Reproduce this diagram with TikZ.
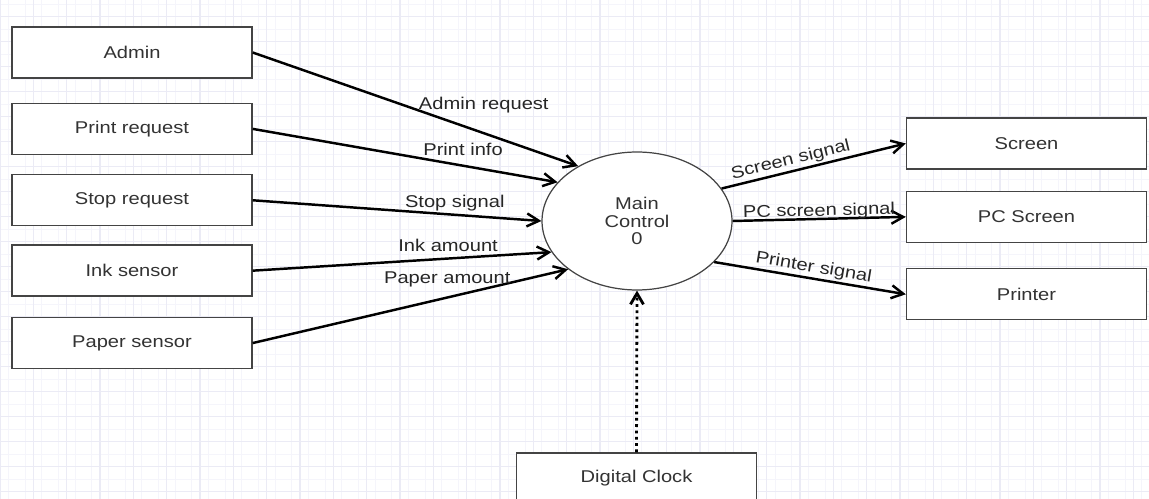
\documentclass[tikz,border=0pt]{standalone}
\usepackage{fontspec}
\setmainfont{Liberation Sans}[FakeStretch=1.18]
\usepackage{tikz}
\usetikzlibrary{positioning,shapes.geometric,arrows.meta}
\definecolor{gridmajor}{HTML}{EBEBF5}
\definecolor{gridminor}{HTML}{F5F5FB}
\definecolor{boxline}{HTML}{444444}

\begin{document}
\begin{tikzpicture}[
x=0.02cm, y=-0.02cm,
node distance=0.42cm,
boxnode/.style={rectangle, draw=boxline, line width=0.8pt, fill=white, minimum width=4.8cm, minimum height=1.02cm, font=\fontsize{9.7}{10}\selectfont, text=black!80},
ovalnode/.style={ellipse, draw=boxline, line width=0.7pt, fill=white, minimum width=3.8cm, minimum height=2.76cm, inner sep=0pt, align=center, font=\fontsize{9.7}{10}\selectfont, text=black!80},
flowlabel/.style={inner sep=1pt, font=\fontsize{9.7}{10}\selectfont, text=black!85},
flow/.style={line width=1.4pt, -{Straight Barb[length=2.4mm,width=2.6mm]}},
clockflow/.style={line width=1.6pt, dotted, -{Straight Barb[length=2.2mm,width=2.6mm]}},
]
\clip (0,0) rectangle (1149,499);
%Grid
\foreach \k in {0,...,68} \draw[gridminor, line width=0.4pt] (\k*16.667+8.333,0) -- (\k*16.667+8.333,499);
\foreach \k in {0,...,40} \draw[gridminor, line width=0.4pt] (0,\k*12.5+4.167) -- (1149,\k*12.5+4.167);
\foreach \k in {0,...,35} \draw[gridmajor, line width=0.6pt] (\k*33.333,0) -- (\k*33.333,499);
\foreach \k in {0,...,20} \draw[gridmajor, line width=0.6pt] (0,\k*25+16.667) -- (1149,\k*25+16.667);

%Nodes
\node[boxnode]  (admin)   at (132,52.5)         {Admin};
\node[boxnode]  (print)   [below=0.48cm of admin] {Print request};
\node[boxnode]  (stop)    [below=0.38cm of print] {Stop request};
\node[boxnode]  (ink)     [below=0.36cm of stop]  {Ink sensor};
\node[boxnode]  (paper)   [below=0.4cm of ink]    {Paper sensor};
\node[ovalnode] (main)    at (637,221)          {Main\\Control\\0};
\node[boxnode]  (screen)  at (1026.5,143.5)     {Screen};
\node[boxnode]  (pcscreen) [below=of screen]    {PC Screen};
\node[boxnode]  (printer) [below=0.5cm of pcscreen] {Printer};
\node[boxnode]  (clock)   at (636.5,478.5)      {Digital Clock};

%Lines
\draw[flow] (admin.east) -- node[flowlabel, pos=0.71, above=0.34cm] (lbladmin) {Admin request} (main.137);
\draw[flow] (print.east) -- node[flowlabel, pos=0.69, above=0.14cm] (lblprint) {Print info} (main.154);
\draw[flow] (stop.east) -- node[flowlabel, pos=0.70, above=0.02cm] (lblstop) {Stop signal} (main.180);
\draw[flow] (ink.east) -- node[flowlabel, pos=0.654, above=0.08cm] (lblink) {Ink amount} (main.200);
\draw[flow] (paper.east) -- node[flowlabel, pos=0.617, above=0.14cm] (lblpaper) {Paper amount} (main.215);
\draw[flow] (main.21) -- node[flowlabel, pos=0.39, sloped, above=0pt] (lblscreen) {Screen signal} (screen.west);
\draw[flow] (main.0) -- node[flowlabel, pos=0.5, sloped, above=-2pt] (lblpc) {PC screen signal} (pcscreen.west);
\draw[flow] (main.332) -- node[flowlabel, pos=0.51, sloped, above=0pt] (lblprinter) {Printer signal} (printer.west);
\draw[clockflow] (clock.north) -- (main.south);
\end{tikzpicture}
\end{document}
